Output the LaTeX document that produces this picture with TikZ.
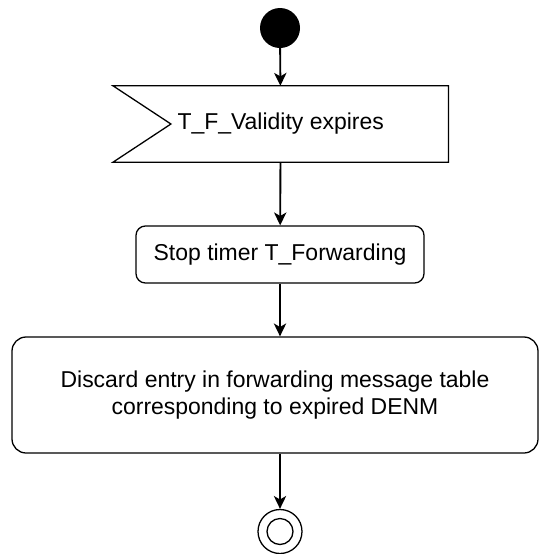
\documentclass[tikz,border=0pt]{standalone}
\usepackage{fontspec}
\setmainfont{Liberation Sans}
\usepackage{tikz}
\usetikzlibrary{arrows.meta, calc}

\begin{document}
\begin{tikzpicture}[
  every node/.style={font=\fontsize{19.6}{23}\selectfont},
  line/.style={draw=black, line width=1.1pt},
  flow/.style={line width=1.6pt, -{Stealth[length=11pt, width=10.5pt, inset=3pt]}},
  startdot/.style={circle, fill=black, minimum size=1.2cm, inner sep=0pt},
  enddot/.style={circle, line, minimum size=1.32cm, inner sep=0pt,
                 path picture={\draw[line] (path picture bounding box.center) circle (0.39cm);}},
  evtbox/.style={rectangle, minimum width=10.05cm, minimum height=2.28cm, inner sep=0pt},
  actbox/.style={rectangle, line, rounded corners=8pt, minimum height=1.71cm, inner sep=0pt},
]
\useasboundingbox (0,0) rectangle (16.17,-16.62);

% nodes
\node[startdot] (init) at (8.4,-0.84) {};
\node[evtbox] (expire) at (8.42,-3.72) {T\_F\_Validity expires};
\draw[line] (expire.north west) -- (expire.north east) -- (expire.south east)
  -- (expire.south west) -- ($(expire.west)+(1.74,0)$) -- cycle;
\node[actbox, minimum width=8.64cm] (stop) at (8.4,-7.635) {Stop timer T\_Forwarding};
\node[actbox, rounded corners=12pt, minimum width=15.78cm, minimum height=3.48cm,
      align=center] (discard) at (8.25,-11.85)
  {Discard entry in forwarding message table\\corresponding to expired DENM};
\node[enddot] (final) at (8.4,-15.945) {};

% connectors
\draw[flow] (init) -- (expire);
\draw[flow] (expire) -- (stop);
\draw[flow] (stop) -- (stop |- discard.north);
\draw[flow] (final |- discard.south) -- (final);
\end{tikzpicture}
\end{document}
